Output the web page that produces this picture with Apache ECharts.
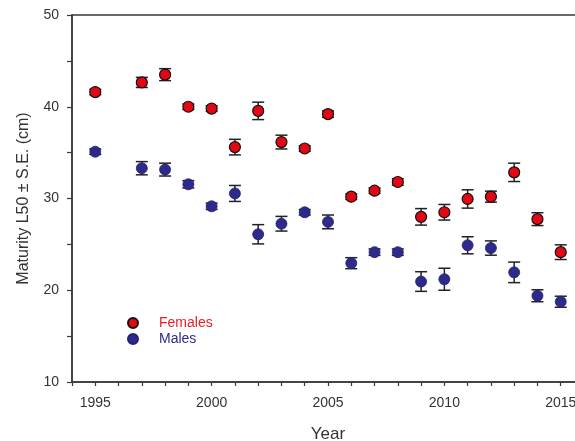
<!DOCTYPE html>
<html>
<head>
<meta charset="utf-8">
<script src="https://cdn.jsdelivr.net/npm/echarts@6/dist/echarts.min.js"></script>
<style>html,body{margin:0;padding:0;background:#fff}#c{width:575px;height:441px}</style>
</head>
<body>
<div id="c"></div>
<script>
var years = [1995, 1997, 1998, 1999, 2000, 2001, 2002, 2003, 2004, 2005, 2006, 2007, 2008, 2009, 2010, 2011, 2012, 2013, 2014, 2015];
var femaleL50 = [41.6, 42.65, 43.5, 40.0, 39.8, 35.6, 39.55, 36.15, 35.45, 39.2, 30.2, 30.85, 31.8, 28.0, 28.5, 29.95, 30.2, 32.85, 27.75, 24.15];
var femaleSE  = [0.3, 0.55, 0.65, 0.3, 0.3, 0.85, 0.95, 0.75, 0.3, 0.35, 0.3, 0.3, 0.35, 0.9, 0.85, 1.0, 0.6, 1.0, 0.7, 0.8];
var maleL50   = [35.1, 33.3, 33.15, 31.55, 29.15, 30.55, 26.1, 27.25, 28.5, 27.45, 22.95, 24.15, 24.15, 20.95, 21.2, 24.9, 24.6, 21.95, 19.4, 18.75];
var maleSE    = [0.3, 0.72, 0.7, 0.4, 0.35, 0.87, 1.05, 0.8, 0.3, 0.75, 0.6, 0.35, 0.35, 1.07, 1.2, 0.93, 0.78, 1.12, 0.65, 0.6];

var chart = echarts.init(document.getElementById('c'));

function errData(vals, se) {
  return years.map(function (y, i) { return [y, vals[i] - se[i], vals[i] + se[i]]; });
}
function errRender(params, api) {
  var x = api.value(0);
  var lo = api.coord([x, api.value(1)]);
  var hi = api.coord([x, api.value(2)]);
  var hw = 6;
  var st = { stroke: '#222', lineWidth: 1.5 };
  return {
    type: 'group',
    children: [
      { type: 'line', shape: { x1: lo[0], y1: lo[1], x2: hi[0], y2: hi[1] }, style: st },
      { type: 'line', shape: { x1: lo[0] - hw, y1: lo[1], x2: lo[0] + hw, y2: lo[1] }, style: st },
      { type: 'line', shape: { x1: hi[0] - hw, y1: hi[1], x2: hi[0] + hw, y2: hi[1] }, style: st }
    ]
  };
}

var axisCol = '#3a3a3a';
chart.setOption({
  animation: false,
  textStyle: { fontFamily: 'Liberation Sans, Arial, sans-serif' },
  grid: { left: 72, right: -9, top: 15, bottom: 59, outerBoundsMode: 'none', containLabel: false,
          show: true, borderColor: axisCol, borderWidth: 1.5, backgroundColor: 'transparent' },
  legend: {
    orient: 'vertical', left: 127, top: 315, itemGap: 0, itemWidth: 10, itemHeight: 10, padding: 0,
    textStyle: { fontSize: 14, lineHeight: 16, padding: [0, 0, 0, 16] },
    data: [
      { name: 'Females', icon: 'circle', textStyle: { color: '#ee1c24' } },
      { name: 'Males', icon: 'circle', textStyle: { color: '#2e2a8c' } }
    ]
  },
  xAxis: {
    type: 'value', min: 1994, max: 2016, interval: 1,
    name: 'Year', nameLocation: 'middle', nameGap: 44,
    nameTextStyle: { fontSize: 17, color: '#333' },
    axisLine: { lineStyle: { color: axisCol, width: 1.5 } },
    axisTick: { show: true, length: 4, lineStyle: { color: axisCol, width: 1.2 } },
    axisLabel: { fontSize: 14, color: '#333', margin: 14, formatter: function (v) { return v % 5 === 0 ? String(v) : ''; } },
    splitLine: { show: false }
  },
  yAxis: {
    type: 'value', min: 10, max: 50, interval: 5,
    name: 'Maturity L50 \u00B1 S.E. (cm)', nameLocation: 'middle', nameGap: 40,
    nameTextStyle: { fontSize: 16, color: '#333' },
    axisLine: { lineStyle: { color: axisCol, width: 1.5 } },
    axisTick: { show: true, length: 5, lineStyle: { color: axisCol, width: 1.2 } },
    axisLabel: { fontSize: 14, color: '#333', margin: 13, formatter: function (v) { return v % 10 === 0 ? String(v) : ''; } },
    splitLine: { show: false }
  },
  series: [
    { type: 'custom', name: 'errF', renderItem: errRender, data: errData(femaleL50, femaleSE), z: 2, silent: true },
    { type: 'custom', name: 'errM', renderItem: errRender, data: errData(maleL50, maleSE), z: 2, silent: true },
    { type: 'scatter', name: 'Females', symbolSize: 11, z: 3,
      itemStyle: { color: '#e30613', borderColor: '#111', borderWidth: 1.2, opacity: 1 },
      data: years.map(function (y, i) { return [y, femaleL50[i]]; }) },
    { type: 'scatter', name: 'Males', symbolSize: 11, z: 3,
      itemStyle: { color: '#2e2a8c', borderColor: '#24216e', borderWidth: 0.8, opacity: 1 },
      data: years.map(function (y, i) { return [y, maleL50[i]]; }) }
  ]
});
</script>
</body>
</html>
